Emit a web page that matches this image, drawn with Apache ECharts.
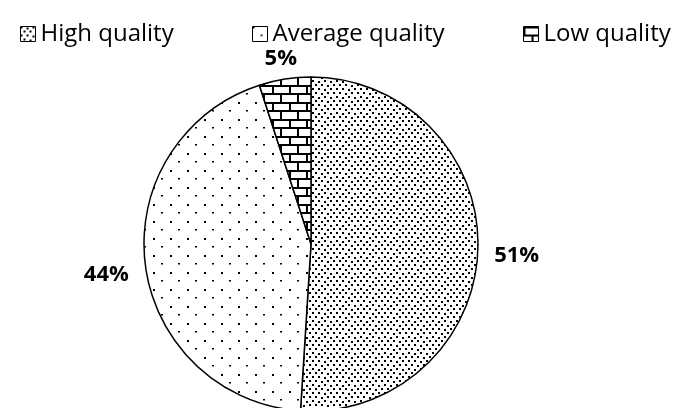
<!DOCTYPE html>
<html>
<head>
<meta charset="utf-8">
<script src="https://cdn.jsdelivr.net/npm/echarts@6/dist/echarts.min.js"></script>
<style>
  html, body { margin: 0; padding: 0; background: #fff; }
  #chart { width: 675px; height: 408px; }
</style>
</head>
<body>
<div id="chart"></div>
<script>
// Share of responses by quality rating (percent)
const categories = ['High quality', 'Average quality', 'Low quality'];
const shares = [51, 44, 5];

// ---- fill patterns, drawn once on small repeating tiles ----
function makeTile(w, h, draw) {
  const c = document.createElement('canvas');
  c.width = w; c.height = h;
  const g = c.getContext('2d');
  g.fillStyle = '#fff';
  g.fillRect(0, 0, w, h);
  g.fillStyle = '#000';
  draw(g);
  return c;
}
// fine, close-set dots (slightly irregular staggered rows)
const densePattern = makeTile(24, 16, g => {
  const pts = [[0, 0], [6, 1], [12, 0], [18, 1], [3, 4], [9, 4], [15, 5], [21, 4],
               [0, 8], [6, 8], [12, 9], [18, 8], [3, 12], [9, 13], [15, 12], [21, 12]];
  pts.forEach(p => g.fillRect(p[0], p[1], 2, 2));
});
// wide-set dots, alternate rows slightly smaller
const sparsePattern = makeTile(17, 17, g => {
  g.fillRect(0, 0, 2, 2);
  g.fillRect(8, 8, 2, 1.5);
});
// brick courses with thick mortar lines
const brickPattern = makeTile(17, 17, g => {
  g.fillRect(0, 0, 17, 2);
  g.fillRect(0, 8, 17, 2);
  g.fillRect(0, 0, 2, 8);
  g.fillRect(8, 8, 2, 9);
});
const fills = [densePattern, sparsePattern, brickPattern];

const PIE_CENTER = [311, 244];
const PIE_RADIUS = 167;
const LABEL_GAP = 16;
const LABEL_SIZE = 22;
const LABEL_DROP = 5;

// centre each percentage label just beyond the rim, along its slice's mid-angle
const total = shares.reduce((a, b) => a + b, 0);
const midAngles = [];
shares.reduce((cum, v) => {
  midAngles.push((90 - 360 * (cum + v / 2) / total) * Math.PI / 180);
  return cum + v;
}, 0);

function placeLabel(params) {
  const a = midAngles[params.dataIndex];
  const dx = Math.cos(a), dy = -Math.sin(a);
  const w = params.labelRect.width;
  const h = LABEL_SIZE * 0.7;
  const ext = Math.abs(dx) * w / 2 + Math.abs(dy) * h / 2;
  const d = PIE_RADIUS + LABEL_GAP + ext;
  return {
    x: PIE_CENTER[0] + dx * d,
    y: PIE_CENTER[1] + dy * d + LABEL_DROP,
    align: 'center',
    verticalAlign: 'middle'
  };
}

const chart = echarts.init(document.getElementById('chart'), null, { renderer: 'canvas' });

const legendStyle = {
  top: 17,
  itemWidth: 15,
  itemHeight: 15,
  itemGap: 4,
  icon: 'rect',
  itemStyle: { borderColor: '#000', borderWidth: 1 },
  textStyle: { fontFamily: 'Open Sans', fontSize: 24, color: '#000' }
};

chart.setOption({
  animation: false,
  backgroundColor: '#fff',
  legend: [
    Object.assign({ left: 15, data: [categories[0]] }, legendStyle),
    Object.assign({ left: 247, data: [categories[1]] }, legendStyle),
    Object.assign({ left: 518, data: [categories[2]] }, legendStyle)
  ],
  series: [{
    type: 'pie',
    center: PIE_CENTER,
    radius: PIE_RADIUS,
    startAngle: 90,
    clockwise: true,
    avoidLabelOverlap: false,
    label: {
      show: true,
      position: 'outside',
      formatter: '{c}%',
      fontFamily: 'Open Sans',
      fontWeight: 'bold',
      fontSize: LABEL_SIZE,
      color: '#000'
    },
    labelLine: { show: false },
    labelLayout: placeLabel,
    itemStyle: { borderColor: '#000', borderWidth: 1.5 },
    emphasis: { disabled: true },
    data: categories.map((name, i) => ({
      name: name,
      value: shares[i],
      itemStyle: { color: { image: fills[i], repeat: 'repeat' } }
    }))
  }]
});
</script>
</body>
</html>
